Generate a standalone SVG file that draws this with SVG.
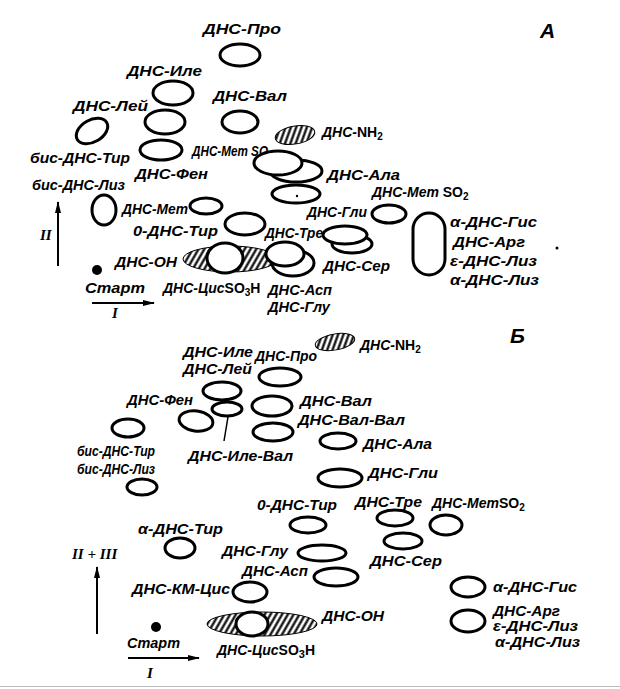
<svg xmlns="http://www.w3.org/2000/svg" width="620" height="689" viewBox="0 0 620 689">
<style>
.s{fill:#fff;stroke:#000;stroke-width:3}
.o{fill:none;stroke:#000;stroke-width:3}
.h{fill:url(#hatch);stroke:#000;stroke-width:1}
.t{font-family:"Liberation Sans",Arial,sans-serif;font-style:italic;font-weight:bold;font-size:14px;fill:#000}
.u{font-style:normal}
.r{font-family:"Liberation Serif","Times New Roman",serif;font-style:italic;font-weight:bold;font-size:15px;fill:#000}
.big{font-family:"Liberation Sans",Arial,sans-serif;font-style:italic;font-weight:bold;font-size:21px;fill:#000}
.c{fill:none;stroke:#000;stroke-width:2}
</style>
<defs>
<pattern id="hatch" width="5" height="5" patternUnits="userSpaceOnUse" patternTransform="rotate(30)">
<rect width="5" height="5" fill="#fff"/>
<line x1="1.5" y1="0" x2="1.5" y2="5" stroke="#000" stroke-width="2.2"/>
</pattern>
<marker id="ah" viewBox="0 0 12 6" refX="11" refY="3" markerWidth="12" markerHeight="6" markerUnits="userSpaceOnUse" orient="auto">
<path d="M0,0 L12,3 L0,6 Z" fill="#000"/>
</marker>
</defs>
<rect width="620" height="689" fill="#fff"/>
<line x1="0" y1="686.5" x2="620" y2="686.5" stroke="#bbb" stroke-width="1"/>

<!-- Panel A -->
<g id="panelA">
<text class="big" x="540" y="38">А</text>
<g id="a-pro"><text class="t" x="203" y="34" textLength="78" lengthAdjust="spacingAndGlyphs">ДНС-Про</text><ellipse class="s" cx="240" cy="55" rx="20" ry="11"/></g>
<g id="a-ile"><text class="t" x="127" y="76" textLength="75" lengthAdjust="spacingAndGlyphs">ДНС-Иле</text><ellipse class="s" cx="173" cy="93" rx="20" ry="12"/></g>
<g id="a-val"><text class="t" x="213" y="101" textLength="74" lengthAdjust="spacingAndGlyphs">ДНС-Вал</text><ellipse class="s" cx="240" cy="122" rx="18" ry="11"/></g>
<g id="a-lei"><text class="t" x="73" y="111" textLength="75" lengthAdjust="spacingAndGlyphs">ДНС-Лей</text><ellipse class="s" cx="165" cy="122" rx="20" ry="12"/></g>
<g id="a-bistir"><text class="t" x="30" y="163" textLength="100" lengthAdjust="spacingAndGlyphs">бис-ДНС-Тир</text><ellipse class="s" cx="92" cy="131" rx="17" ry="11" transform="rotate(-30 92 131)"/></g>
<g id="a-fen"><text class="t" x="135" y="179" textLength="73" lengthAdjust="spacingAndGlyphs">ДНС-Фен</text><ellipse class="s" cx="161" cy="150" rx="21" ry="10"/></g>
<g id="a-nh2"><ellipse class="h" cx="295" cy="135" rx="20" ry="9" transform="rotate(-10 295 135)"/><text class="t" x="322" y="137">ДНС-<tspan class="u">NH</tspan><tspan class="u" dy="3" font-size="10">2</tspan></text></g>
<g id="a-metso"><text class="t" x="192" y="156" font-size="12" textLength="76" lengthAdjust="spacingAndGlyphs">ДНС-Мет SO</text><ellipse class="s" cx="296" cy="171" rx="26" ry="11"/><ellipse class="s" cx="278" cy="163" rx="24" ry="12"/></g>
<g id="a-ala"><text class="t" x="327" y="180" textLength="73" lengthAdjust="spacingAndGlyphs">ДНС-Ала</text><ellipse class="s" cx="296" cy="194" rx="24" ry="9"/></g>
<g id="a-bislys"><text class="t" x="32" y="190" textLength="93" lengthAdjust="spacingAndGlyphs">бис-ДНС-Лиз</text><ellipse class="s" cx="104" cy="210" rx="12" ry="15"/></g>
<g id="a-met"><text class="t" x="122" y="214" textLength="66" lengthAdjust="spacingAndGlyphs">ДНС-Мет</text><ellipse class="s" cx="206" cy="206" rx="16" ry="8"/></g>
<g id="a-tyr"><text class="t" x="133" y="236" textLength="85" lengthAdjust="spacingAndGlyphs">0-ДНС-Тир</text><ellipse class="s" cx="245" cy="224" rx="20" ry="11"/></g>
<g id="a-metso2"><text class="t" x="372" y="197">ДНС-Мет <tspan class="u">SO</tspan><tspan class="u" dy="3" font-size="10">2</tspan></text><ellipse class="s" cx="389" cy="214" rx="17" ry="9"/></g>
<g id="a-gly"><text class="t" x="307" y="217" textLength="60" lengthAdjust="spacingAndGlyphs">ДНС-Гли</text></g>
<g id="a-thr"><text class="t" x="265" y="238" textLength="58" lengthAdjust="spacingAndGlyphs">ДНС-Тре</text><ellipse class="s" cx="352" cy="244" rx="20" ry="9"/><ellipse class="s" cx="345" cy="235" rx="22" ry="9"/></g>
<g id="a-ser"><text class="t" x="323" y="271" textLength="67" lengthAdjust="spacingAndGlyphs">ДНС-Сер</text></g>
<g id="a-basic"><rect class="s" x="413" y="213" width="32" height="62" rx="16" ry="16"/>
<text class="t" x="450" y="227" textLength="87" lengthAdjust="spacingAndGlyphs">α-ДНС-Гис</text>
<text class="t" x="453" y="247" textLength="72" lengthAdjust="spacingAndGlyphs">ДНС-Арг</text>
<text class="t" x="450" y="266" textLength="87" lengthAdjust="spacingAndGlyphs">ε-ДНС-Лиз</text>
<text class="t" x="450" y="285" textLength="89" lengthAdjust="spacingAndGlyphs">α-ДНС-Лиз</text></g>
<g id="a-oh"><text class="t" x="115" y="267" textLength="62" lengthAdjust="spacingAndGlyphs">ДНС-ОН</text><ellipse class="h" cx="230" cy="259" rx="47" ry="13"/></g>
<g id="a-cys"><ellipse class="s" cx="225" cy="258" rx="18" ry="15"/><text class="t" x="163" y="293">ДНС-Цис<tspan class="u">SO</tspan><tspan class="u" dy="3" font-size="10">3</tspan><tspan class="u" dy="-3">H</tspan></text></g>
<g id="a-asp"><ellipse class="s" cx="293" cy="263" rx="21" ry="13"/><ellipse class="s" cx="285" cy="254" rx="19" ry="12"/>
<text class="t" x="268" y="295" textLength="64" lengthAdjust="spacingAndGlyphs">ДНС-Асп</text>
<text class="t" x="268" y="312" textLength="62" lengthAdjust="spacingAndGlyphs">ДНС-Глу</text></g>
<g id="a-start"><circle cx="97" cy="270" r="5" fill="#000"/><text class="t" x="85" y="293" textLength="60" lengthAdjust="spacingAndGlyphs">Старт</text></g>
<text class="r" x="40" y="240">II</text>
<text class="r" x="112" y="318">I</text>
<circle cx="557" cy="248" r="1.5" fill="#000"/>
<circle cx="297" cy="196" r="1.2" fill="#000"/>
</g>

<!-- Panel B -->
<g id="panelB">
<text class="big" x="510" y="343">Б</text>
<g id="b-nh2"><ellipse class="h" cx="335" cy="342" rx="20" ry="8" transform="rotate(-10 335 342)"/><text class="t" x="360" y="350">ДНС-<tspan class="u">NH</tspan><tspan class="u" dy="3" font-size="10">2</tspan></text></g>
<g id="b-ile"><text class="t" x="183" y="357" font-size="13" textLength="70" lengthAdjust="spacingAndGlyphs">ДНС-Иле</text><text class="t" x="183" y="374" font-size="13" textLength="69" lengthAdjust="spacingAndGlyphs">ДНС-Лей</text><ellipse class="s" cx="222" cy="391" rx="19" ry="9"/></g>
<g id="b-pro"><text class="t" x="255" y="361" font-size="13" textLength="62" lengthAdjust="spacingAndGlyphs">ДНС-Про</text><ellipse class="s" cx="280" cy="377" rx="21" ry="9"/></g>
<g id="b-fen"><text class="t" x="127" y="405" font-size="13" textLength="66" lengthAdjust="spacingAndGlyphs">ДНС-Фен</text><ellipse class="s" cx="196" cy="421" rx="17" ry="10" transform="rotate(8 196 421)"/></g>
<g id="b-ileval"><ellipse class="s" cx="227" cy="409" rx="15" ry="7"/><text class="t" x="188" y="461" font-size="13" textLength="105" lengthAdjust="spacingAndGlyphs">ДНС-Иле-Вал</text></g>
<g id="b-val"><text class="t" x="300" y="406" font-size="13" textLength="72" lengthAdjust="spacingAndGlyphs">ДНС-Вал</text><ellipse class="s" cx="272" cy="406" rx="20" ry="10"/></g>
<g id="b-valval"><text class="t" x="298" y="425" font-size="13" textLength="107" lengthAdjust="spacingAndGlyphs">ДНС-Вал-Вал</text><ellipse class="s" cx="273" cy="432" rx="20" ry="9"/></g>
<g id="b-ala"><ellipse class="s" cx="338" cy="441" rx="18" ry="8"/><text class="t" x="363" y="449" font-size="13" textLength="69" lengthAdjust="spacingAndGlyphs">ДНС-Ала</text></g>
<g id="b-bistir"><ellipse class="s" cx="128" cy="428" rx="16" ry="9"/><text class="t" x="77" y="456" font-size="13" textLength="78" lengthAdjust="spacingAndGlyphs">бис-ДНС-Тир</text></g>
<g id="b-bislys"><text class="t" x="77" y="474" font-size="13" textLength="78" lengthAdjust="spacingAndGlyphs">бис-ДНС-Лиз</text><ellipse class="s" cx="142" cy="487" rx="15" ry="8"/></g>
<g id="b-gly"><ellipse class="s" cx="340" cy="478" rx="22" ry="9"/><text class="t" x="368" y="478" font-size="13" textLength="70" lengthAdjust="spacingAndGlyphs">ДНС-Гли</text></g>
<g id="b-tyr"><text class="t" x="257" y="510" font-size="13" textLength="80" lengthAdjust="spacingAndGlyphs">0-ДНС-Тир</text><ellipse class="s" cx="308" cy="525" rx="18" ry="8"/></g>
<g id="b-thr"><text class="t" x="355" y="507" font-size="13" textLength="67" lengthAdjust="spacingAndGlyphs">ДНС-Тре</text><ellipse class="s" cx="395" cy="518" rx="18" ry="8"/></g>
<g id="b-metso2"><text class="t" x="432" y="508" font-size="13">ДНС-Мет<tspan class="u">SO</tspan><tspan class="u" dy="3" font-size="10">2</tspan></text><ellipse class="s" cx="446" cy="525" rx="16" ry="10"/></g>
<g id="b-ser"><ellipse class="s" cx="403" cy="541" rx="19" ry="8"/><text class="t" x="370" y="566" font-size="13" textLength="72" lengthAdjust="spacingAndGlyphs">ДНС-Сер</text></g>
<g id="b-atyr"><text class="t" x="138" y="534" font-size="13" textLength="85" lengthAdjust="spacingAndGlyphs">α-ДНС-Тир</text><ellipse class="s" cx="180" cy="548" rx="15" ry="10"/></g>
<g id="b-glu"><text class="t" x="222" y="556" font-size="13" textLength="66" lengthAdjust="spacingAndGlyphs">ДНС-Глу</text><ellipse class="s" cx="322" cy="553" rx="24" ry="8"/></g>
<g id="b-asp"><text class="t" x="242" y="576" font-size="13" textLength="66" lengthAdjust="spacingAndGlyphs">ДНС-Асп</text><ellipse class="s" cx="336" cy="577" rx="22" ry="9"/></g>
<g id="b-kmcys"><text class="t" x="132" y="594" font-size="13" textLength="98" lengthAdjust="spacingAndGlyphs">ДНС-КМ-Цис</text><ellipse class="s" cx="250" cy="592" rx="17" ry="10"/></g>
<g id="b-oh"><ellipse class="h" cx="262" cy="624" rx="55" ry="12"/><text class="t" x="322" y="621" font-size="13" textLength="62" lengthAdjust="spacingAndGlyphs">ДНС-ОН</text></g>
<g id="b-cys"><ellipse class="s" cx="252" cy="624" rx="16" ry="12"/><text class="t" x="217" y="655" font-size="15">ДНС-Цис<tspan class="u">SO</tspan><tspan class="u" dy="3" font-size="11">3</tspan><tspan class="u" dy="-3">H</tspan></text></g>
<g id="b-his"><ellipse class="s" cx="468" cy="587" rx="17" ry="10"/><text class="t" x="493" y="592" font-size="13" textLength="84" lengthAdjust="spacingAndGlyphs">α-ДНС-Гис</text></g>
<g id="b-arg"><ellipse class="s" cx="468" cy="621" rx="17" ry="11"/>
<text class="t" x="493" y="616" font-size="13" textLength="67" lengthAdjust="spacingAndGlyphs">ДНС-Арг</text>
<text class="t" x="493" y="631" font-size="13" textLength="85" lengthAdjust="spacingAndGlyphs">ε-ДНС-Лиз</text>
<text class="t" x="495" y="647" font-size="13" textLength="85" lengthAdjust="spacingAndGlyphs">α-ДНС-Лиз</text></g>
<g id="b-start"><circle cx="156" cy="627" r="5" fill="#000"/><text class="t" x="127" y="648" font-size="13" textLength="53" lengthAdjust="spacingAndGlyphs">Старт</text></g>
<text class="r" x="72" y="559">II + III</text>
<text class="r" x="147" y="678">I</text>
</g>

<g id="connectors">
<line class="c" x1="58" y1="266" x2="58" y2="202" marker-end="url(#ah)"/>
<line class="c" x1="92" y1="303" x2="154" y2="303" marker-end="url(#ah)"/>
<line class="c" x1="97" y1="634" x2="97" y2="567" marker-end="url(#ah)"/>
<line class="c" x1="128" y1="658" x2="199" y2="658" marker-end="url(#ah)"/>
<line x1="228" y1="417" x2="224" y2="441" stroke="#000" stroke-width="1.5"/>
</g>
</svg>
